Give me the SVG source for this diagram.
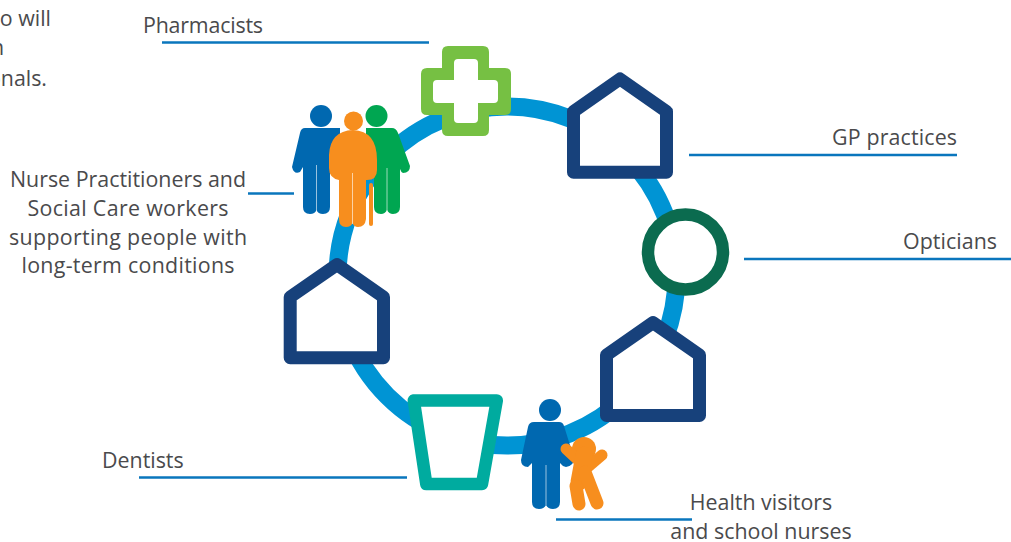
<svg xmlns="http://www.w3.org/2000/svg" width="1011" height="542" viewBox="0 0 1011 542">
<style>
text{font-family:"Open Sans","Noto Sans","Liberation Sans",sans-serif;font-size:21.4px;fill:#4a4a4c}
.m{text-anchor:middle}.e{text-anchor:end}
.l{fill:none;stroke:#0a76bd;stroke-width:2.5}
.h{fill:#fff;stroke:#17417b;stroke-width:13;stroke-linejoin:round}
.blue{fill:#0068b0}.or{fill:#f78e1e}.gr{fill:#00a651}
.limb{fill:none;stroke:#f78e1e;stroke-linecap:round}
.gap{fill:none;stroke:#fff;stroke-width:1;stroke-opacity:.6}
</style>
<rect width="1011" height="542" fill="#fff"/>
<g id="ring"><circle cx="507" cy="276" r="169.5" fill="none" stroke="#0094d4" stroke-width="18"/></g>
<g id="connectors">
<path class="l" d="M162 42.500H429"/>
<path class="l" d="M689 155H957"/>
<path class="l" d="M744 259H1011"/>
<path class="l" d="M248 193.500H294"/>
<path class="l" d="M139 477.500H407"/>
<path class="l" d="M556 519.500H692"/>
</g>
<g id="intro"><text class="e" x="51" y="26">o will</text><text class="e" x="4" y="55">n</text><text class="e" x="47" y="86">onals.</text></g>
<g id="pharmacists"><text x="143" y="33" textLength="120">Pharmacists</text>
<path d="M448 46H483Q489 46 489 52V68H505Q511 68 511 74V109Q511 115 505 115H489V130Q489 136 483 136H448Q442 136 442 130V115H427Q421 115 421 109V74Q421 68 427 68H442V52Q442 46 448 46Z" fill="#76c043"/>
<path d="M458 59H474Q478 59 478 63V80H494Q498 80 498 84V99Q498 103 494 103H478V119Q478 123 474 123H458Q454 123 454 119V103H437Q433 103 433 99V84Q433 80 437 80H454V63Q454 59 458 59Z" fill="#fff"/>
</g>
<g id="gp-practices"><text x="832" y="145" textLength="125">GP practices</text>
<path class="h" d="M620 79L666.500 111.500V172.200H573.500V111.500Z"/></g>
<g id="opticians"><text x="903" y="249" textLength="94">Opticians</text>
<circle cx="685.500" cy="252" r="37.500" fill="#fff" stroke="#0b6b4f" stroke-width="12.500"/></g>
<g id="house-lower-right"><path class="h" d="M653 322.600L699.500 355V415.500H606.500V355Z"/></g>
<g id="house-left"><path class="h" d="M337 264.600L383.500 297V357.700H290.200V297Z"/></g>
<g id="dentists"><text x="102" y="468">Dentists</text>
<path d="M413.800 400.500H496.800L482 484H426.300Z" fill="#fff" stroke="#00ab9f" stroke-width="12.500" stroke-linejoin="round"/></g>
<g id="nurse-practitioners"><text class="m" x="128" y="187">Nurse Practitioners and</text><text class="m" x="128" y="216" textLength="201">Social Care workers</text><text class="m" x="128" y="245" textLength="238">supporting people with</text><text class="m" x="128" y="273" textLength="213">long-term conditions</text>
<g class="blue"><circle cx="321" cy="116" r="11"/><path d="M305 128H340V165H330V207Q330 214 323 214Q318 214 316.500 210Q315 214 310 214Q303 214 303 207V167L300 172Q294 175 292 167L300 133Q301 128 305 128Z"/></g>
<path class="gap" d="M316.500 165V211"/>
<g class="gr"><circle cx="376.500" cy="116" r="11"/><path d="M366 128H392Q396 128 398 133L410 166Q410 173 403 173Q401 172 400 169V207Q400 214 393 214Q389 214 387 210Q385 214 381 214Q374 214 374 207V170H366Z"/></g>
<path class="gap" d="M387 168V211"/>
<rect class="or" x="369" y="183" width="4" height="43" rx="2"/>
<g class="or"><circle cx="353.500" cy="121" r="9.500"/><path d="M353 130Q377 131 377 160V170Q377 180 367 180H366V219Q365 227 358 227Q354 227 352.500 223Q351 227 346 227Q339 227 339 219V180Q329 178 329 168V155Q330 131 353 130Z"/></g>
<path class="gap" d="M352.500 173V224"/>
</g>
<g id="health-visitors"><text class="m" x="761" y="510">Health visitors</text><text class="m" x="761" y="539">and school nurses</text>
<g class="blue"><circle cx="550" cy="410" r="11"/><path d="M534 422H559Q563 422 564 426L574 458Q574 466 566 467Q562 466 560 463V502Q560 509 553 509Q548 509 546 505Q544 509 539 509Q532 509 532 502V463L528 467Q521 467 521 460L528 427Q529 422 534 422Z"/></g>
<path class="gap" d="M546 465V505"/>
<g><circle class="or" cx="584" cy="449" r="12"/>
<path class="limb" stroke-width="11" d="M566 449L580 462"/>
<path class="limb" stroke-width="11" d="M602 455L588 467"/>
<path class="limb" stroke-width="17" d="M584 455L579 482"/>
<path class="limb" stroke-width="13" d="M576 486L579 504"/>
<path class="limb" stroke-width="13" d="M585 472L597 503"/></g>
</g>
</svg>
